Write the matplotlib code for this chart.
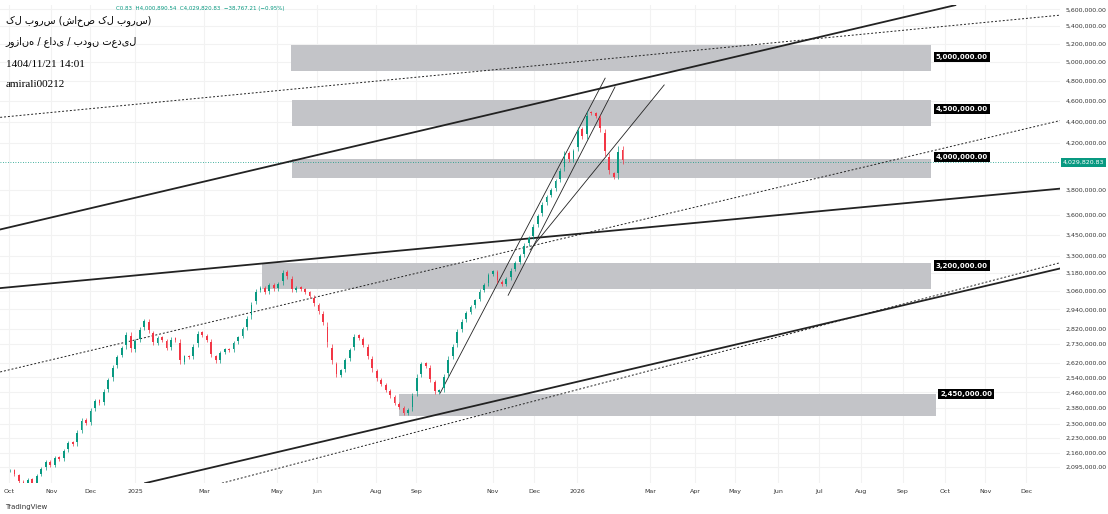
import numpy as np
import matplotlib.pyplot as plt
from matplotlib.patches import Rectangle

# daily closes (millions)
closes = [2.08, 2.06, 2.03, 2.01, 2.04, 2.02, 2.06, 2.09, 2.12, 2.10, 2.14, 2.13, 2.17,
          2.21, 2.20, 2.26, 2.32, 2.30, 2.37, 2.42, 2.40, 2.47, 2.53, 2.60, 2.66, 2.71, 2.79,
          2.69, 2.75, 2.82, 2.87, 2.80, 2.73, 2.77,
          2.75, 2.70, 2.76, 2.75, 2.62, 2.66, 2.65, 2.72, 2.80, 2.78, 2.75,
          2.66, 2.63, 2.68, 2.70, 2.69, 2.74, 2.77, 2.82, 2.89, 2.98, 3.06,
          3.08, 3.05, 3.10, 3.07, 3.11, 3.19, 3.15, 3.06,
          3.08, 3.07, 3.05, 3.02, 2.97, 2.92, 2.85, 2.72, 2.62,
          2.55, 2.58, 2.64, 2.70, 2.78,
          2.76, 2.72, 2.65, 2.58, 2.53, 2.50, 2.47, 2.44, 2.40, 2.38, 2.35, 2.37,
          2.45, 2.55, 2.62, 2.60, 2.52, 2.46,
          2.47, 2.55, 2.65, 2.72, 2.81, 2.87, 2.92, 2.96, 3.00, 3.06, 3.10, 3.17, 3.19,
          3.12, 3.10, 3.14, 3.20, 3.25, 3.30, 3.38,
          3.43, 3.52, 3.60, 3.69, 3.75, 3.80, 3.88, 3.97, 4.12, 4.05, 4.14,
          4.34, 4.25, 4.49, 4.48, 4.45, 4.32, 4.10, 3.94, 3.90, 4.16, 4.029820]

# zones: (start bar, end bar, low, high, label)
zones = [(62.9, 206, 4.90, 5.19, "5,000,000.00"),
         (63.1, 206, 4.36, 4.61, "4,500,000.00"),
         (63.1, 206, 3.90, 4.06, "4,000,000.00"),
         (56.4, 206, 3.07, 3.25, "3,200,000.00"),
         (87.0, 207, 2.34, 2.45, "2,450,000.00")]
label_y = [5.05, 4.52, 4.08, 3.23, 2.45]

# trend lines: (x0, p0, x1, p1, style, width)
lines = [(-2.2, 3.49, 211.4, 5.65, "-", 1.3),
         (-2.2, 4.44, 234.9, 5.53, (0, (2, 2)), 0.7),
         (-2.2, 3.077, 234.9, 3.81, "-", 1.3),
         (-2.2, 2.57, 234.9, 4.41, (0, (2, 2)), 0.7),
         (30.2, 2.024, 234.9, 3.21, "-", 1.3),
         (47.4, 2.024, 234.9, 3.25, (0, (2, 2)), 0.7),
         (96.2, 2.456, 133.1, 4.83, "-", 0.6),
         (111.4, 3.03, 135.3, 4.74, "-", 0.6),
         (116.3, 3.34, 146.3, 4.76, "-", 0.6)]

yticks = [5.6, 5.4, 5.2, 5.0, 4.8, 4.6, 4.4, 4.2, 3.8, 3.6, 3.45, 3.3, 3.18, 3.06,
          2.94, 2.82, 2.73, 2.62, 2.54, 2.46, 2.38, 2.30, 2.23, 2.16, 2.095]
xtick_pos = [-0.2, 9.2, 17.9, 28, 43.4, 59.7, 68.7, 81.9, 90.8, 108, 117.2, 126.8,
             143.2, 153.2, 162.2, 171.8, 181, 190.4, 199.6, 209.2, 218.1, 227.3]
xtick_lbl = ["Oct", "Nov", "Dec", "2025", "Mar", "May", "Jun", "Aug", "Sep", "Nov", "Dec",
             "2026", "Mar", "Apr", "May", "Jun", "Jul", "Aug", "Sep", "Oct", "Nov", "Dec"]

UP, DN = "#089981", "#f23645"
fig = plt.figure(figsize=(11.08, 5.14), dpi=100)
ax = fig.add_axes([0.0, 0.06, 0.957, 0.93])
ax.set_yscale("log")
ax.set_xlim(-2.24, 234.9)
ax.set_ylim(2.024e6, 5.65e6)

for t in yticks:
    ax.axhline(t * 1e6, color="#f2f2f2", lw=0.8, zorder=0)
for t in xtick_pos:
    ax.axvline(t, color="#f2f2f2", lw=0.8, zorder=0)

for x0, x1, lo, hi, lab in zones:
    ax.add_patch(Rectangle((x0, lo * 1e6), x1 - x0, (hi - lo) * 1e6,
                           facecolor="#c3c4c8", edgecolor="none", zorder=1))
for (x0, x1, lo, hi, lab), ly in zip(zones, label_y):
    ax.text(x1 + 1, ly * 1e6, lab, fontsize=5, color="white", fontweight="bold",
            va="center", ha="left", zorder=6,
            bbox=dict(boxstyle="square,pad=0.3", fc="black", ec="none"))

for x0, p0, x1, p1, ls, lw in lines:
    ax.plot([x0, x1], [p0 * 1e6, p1 * 1e6], color="#222222", ls=ls, lw=lw, zorder=3)

prev = closes[0]
for i, c in enumerate(closes):
    col = UP if c >= prev else DN
    lo, hi = min(prev, c), max(prev, c)
    ax.vlines(i, lo * 0.997e6, hi * 1.003e6, color=col, lw=0.5, zorder=4)
    ax.bar(i, (hi - lo) * 1e6 * 0.7 + 3000, bottom=lo * 1e6 + (hi - lo) * 1.5e5,
           width=0.4, color=col, zorder=4)
    prev = c

last = closes[-1] * 1e6
ax.axhline(last, color=UP, lw=0.6, ls=(0, (1, 2)), zorder=2)

ax.set_yticks([t * 1e6 for t in yticks])
ax.set_yticklabels([f"{t * 1e6:,.2f}" for t in yticks])
ax.yaxis.set_minor_locator(plt.NullLocator())
ax.yaxis.tick_right()
ax.tick_params(axis="y", labelsize=4.5, length=0, pad=4, labelcolor="#333333")
ax.set_xticks(xtick_pos)
ax.set_xticklabels(xtick_lbl)
ax.tick_params(axis="x", labelsize=4.5, length=0, pad=4, labelcolor="#333333")
for s in ax.spines.values():
    s.set_visible(False)
ax.text(1.002, last, "4,029,820.83", transform=ax.get_yaxis_transform(), fontsize=4.5,
        color="white", va="center", ha="left",
        bbox=dict(boxstyle="square,pad=0.3", fc=UP, ec="none"), zorder=7)

fig.text(0.005, 0.955, "کل بورس (شاخص کل بورس)", fontsize=7, family="DejaVu Sans")
fig.text(0.005, 0.915, "روزانه / عادی / بدون تعدیل", fontsize=7, family="DejaVu Sans")
fig.text(0.005, 0.87, "1404/11/21 14:01", fontsize=8, family="Liberation Serif")
fig.text(0.005, 0.83, "amirali00212", fontsize=8, family="Liberation Serif")
fig.text(0.105, 0.98, "C0.83  H4,000,890.54  C4,029,820.83  −38,767.21 (−0.95%)",
         fontsize=4, color=UP)
fig.text(0.005, 0.01, "TradingView", fontsize=5, color="#333333")

fig.savefig("out.png", dpi=100)
